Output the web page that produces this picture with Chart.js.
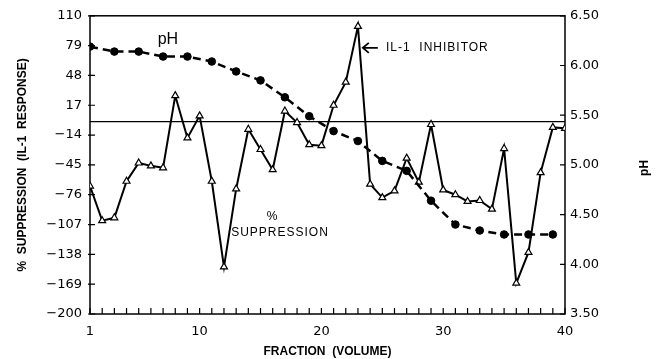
<!DOCTYPE html>
<html>
<head>
<meta charset="utf-8">
<script src="https://cdn.jsdelivr.net/npm/chart.js@4.4.0/dist/chart.umd.min.js"></script>
<style>
  html, body { margin: 0; padding: 0; background: #fff; }
</style>
</head>
<body>
<canvas id="chart" width="658" height="359"></canvas>
<script>
// fraction number for every collected tube
const fractions = [1, 2, 3, 4, 5, 6, 7, 8, 9, 10, 11, 12, 13, 14, 15, 16, 17, 18, 19, 20,
                   21, 22, 23, 24, 25, 26, 27, 28, 29, 30, 31, 32, 33, 34, 35, 36, 37, 38, 39, 40];
// % suppression of the IL-1 response
const suppression = [-67, -103, -100, -62, -43, -46, -48, 27, -17, 6,
                     -62, -151, -70, -8, -29, -50, 11, -1, -24, -25,
                     17, 41, 99, -65, -79, -72, -38, -63, -3, -71,
                     -76, -83, -82, -91, -28, -168, -136, -53, -6, -7];
// pH measured on odd fractions
const phFractions = [1, 3, 5, 7, 9, 11, 13, 15, 17, 19, 21, 23, 25, 27, 29, 31, 33, 35, 37, 39];
const phValues = [6.19, 6.14, 6.14, 6.09, 6.09, 6.04, 5.94, 5.85, 5.68, 5.49,
                  5.34, 5.24, 5.04, 4.94, 4.64, 4.40, 4.34, 4.30, 4.30, 4.30];

const leftTicks = [110, 79, 48, 17, -14, -45, -76, -107, -138, -169, -200];
const rightTicks = [6.5, 6.0, 5.5, 5.0, 4.5, 4.0, 3.5];
const xLabels = [1, 10, 20, 30, 40];
const baseline = 0;

const tickFont = { family: 'DejaVu Sans', size: 13 };
const ink = '#000';

// box, zero line and inward tick marks
const frame = {
  id: 'frame',
  beforeDatasetsDraw(chart) {
    const { ctx, chartArea: a, scales } = chart;
    ctx.save();
    ctx.strokeStyle = ink;
    ctx.lineWidth = 1.5;
    ctx.strokeRect(a.left, a.top, a.right - a.left, a.bottom - a.top);

    ctx.lineWidth = 1.2;
    const y0 = scales.y.getPixelForValue(baseline);
    ctx.beginPath();
    ctx.moveTo(a.left, y0);
    ctx.lineTo(a.right, y0);

    scales.x.ticks.forEach(t => {
      const x = scales.x.getPixelForValue(t.value);
      ctx.moveTo(x, a.bottom);
      ctx.lineTo(x, a.bottom - 6);
    });
    scales.y.ticks.forEach(t => {
      const y = scales.y.getPixelForValue(t.value);
      ctx.moveTo(a.left - 2, y);
      ctx.lineTo(a.left + 5, y);
    });
    scales.y1.ticks.forEach(t => {
      const y = scales.y1.getPixelForValue(t.value);
      ctx.moveTo(a.right, y);
      ctx.lineTo(a.right - 5, y);
    });
    ctx.stroke();
    ctx.restore();
  },
  afterDraw(chart) {
    const { ctx, scales, chartArea: a } = chart;
    const px = v => scales.x.getPixelForValue(v);
    const py = v => scales.y.getPixelForValue(v);
    ctx.save();
    ctx.fillStyle = ink;
    ctx.strokeStyle = ink;

    // right axis title, reads bottom to top
    ctx.font = 'bold 12px "Liberation Sans"';
    ctx.textAlign = 'center';
    ctx.textBaseline = 'middle';
    ctx.save();
    ctx.translate(645, (a.top + a.bottom) / 2 + 3);
    ctx.rotate(-Math.PI / 2);
    ctx.fillText('pH', 0, 0);
    ctx.restore();

    ctx.font = '16px "Liberation Sans"';
    ctx.fillText('pH', px(7.4), py(85));

    // arrow to the inhibitor peak
    const tx = px(23.4), ty = py(76.7);
    ctx.lineWidth = 1.8;
    ctx.beginPath();
    ctx.moveTo(tx, ty);
    ctx.lineTo(tx + 15, ty);
    ctx.moveTo(tx + 6, ty - 5);
    ctx.lineTo(tx, ty);
    ctx.lineTo(tx + 6, ty + 5);
    ctx.stroke();

    ctx.letterSpacing = '1px';
    ctx.font = '12px "Liberation Sans"';
    ctx.textAlign = 'left';
    ctx.fillText('IL-1  INHIBITOR', px(25.3), ty);

    ctx.textAlign = 'center';
    ctx.fillText('%', px(16.0), py(-99));
    ctx.fillText('SUPPRESSION', px(16.6), py(-115.7));
    ctx.restore();
  }
};

new Chart(document.getElementById('chart'), {
  type: 'line',
  data: {
    datasets: [
      {
        label: 'pH',
        data: phFractions.map((f, i) => ({ x: f, y: phValues[i] })),
        yAxisID: 'y1',
        borderColor: ink,
        borderWidth: 2.5,
        borderDash: [8, 5],
        pointStyle: 'circle',
        pointRadius: 3.8,
        pointBorderWidth: 1,
        pointBackgroundColor: ink,
        pointBorderColor: ink,
        tension: 0
      },
      {
        label: '% suppression',
        data: fractions.map((f, i) => ({ x: f, y: suppression[i] })),
        yAxisID: 'y',
        borderColor: ink,
        borderWidth: 2,
        pointStyle: 'triangle',
        pointRadius: 4,
        pointBackgroundColor: '#fff',
        pointBorderColor: ink,
        pointBorderWidth: 1.2,
        tension: 0
      }
    ]
  },
  options: {
    responsive: false,
    animation: false,
    layout: { padding: { top: 15, left: 0, right: 0, bottom: 0 } },
    plugins: { legend: { display: false }, tooltip: { enabled: false } },
    scales: {
      x: {
        type: 'linear',
        min: 1,
        max: 40,
        afterBuildTicks: s => { s.ticks = fractions.map(value => ({ value })); },
        afterFit: s => { s.height = 45; },
        grid: { display: false, drawTicks: false },
        border: { display: false },
        ticks: {
          autoSkip: false,
          maxRotation: 0,
          padding: 10,
          color: ink,
          font: tickFont,
          callback: v => xLabels.includes(v) ? String(v) : ''
        },
        title: {
          display: true,
          text: 'FRACTION  (VOLUME)',
          color: ink,
          font: { family: 'Liberation Sans', size: 12, weight: 'bold' },
          padding: { top: 0, bottom: 0 }
        }
      },
      y: {
        position: 'left',
        min: -200,
        max: 110,
        afterBuildTicks: s => { s.ticks = leftTicks.map(value => ({ value })); },
        afterFit: s => { s.width = 90; },
        grid: { display: false, drawTicks: false },
        border: { display: false },
        ticks: {
          padding: 8,
          color: ink,
          font: tickFont,
          callback: v => v < 0 ? '\u2212' + Math.abs(v) : String(v)
        },
        title: {
          display: true,
          text: '%  SUPPRESSION  (IL-1  RESPONSE)',
          color: ink,
          font: { family: 'Liberation Sans', size: 12, weight: 'bold' },
          padding: { top: 15, bottom: 0 }
        }
      },
      y1: {
        position: 'right',
        min: 3.5,
        max: 6.5,
        afterBuildTicks: s => { s.ticks = rightTicks.map(value => ({ value })); },
        afterFit: s => { s.width = 93; },
        grid: { display: false, drawTicks: false },
        border: { display: false },
        ticks: {
          padding: 5,
          color: ink,
          font: tickFont,
          callback: v => v.toFixed(2)
        }
      }
    }
  },
  plugins: [frame]
});
</script>
</body>
</html>
